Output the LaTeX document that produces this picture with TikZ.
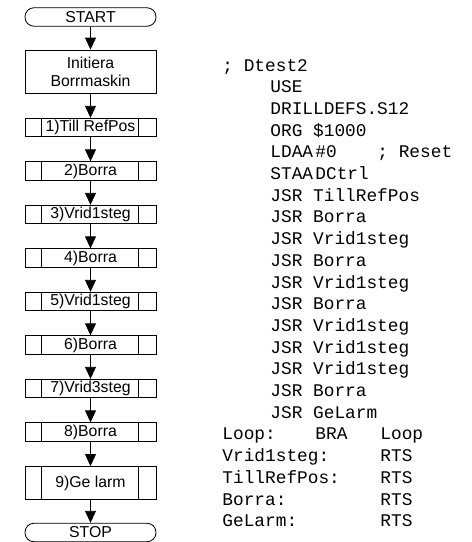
\documentclass[tikz,border=0pt]{standalone}
\usepackage{fontspec}
\setmainfont{Liberation Sans}
\newfontfamily\codefont{Liberation Mono}
\usetikzlibrary{arrows.meta}
\begin{document}
\begin{tikzpicture}[x=1pt,y=-1pt,line width=0.85pt,
  boxtext/.style={font=\fontsize{15.8}{18}\selectfont},
  procbox/.style={boxtext,draw,minimum width=131pt,minimum height=18.5pt,inner sep=0pt,align=center},
  term/.style={procbox,rounded corners=9pt},
  arr/.style={-{Triangle[width=11pt,length=12pt]}},
  code/.style={font=\fontsize{17.8}{21}\codefont,anchor=base west,inner sep=0pt}
]
\useasboundingbox (0,0) rectangle (472,542);

% flowchart
\node[term] (start) at (90.5,17) {START};
\node[procbox,minimum height=43.5pt] (init) at (90.5,71.75) {Initiera\\Borrmaskin};
\node[procbox] (s1) at (90.5,127.5) {1)Till RefPos};
\node[procbox] (s2) at (90.5,171) {2)Borra};
\node[procbox] (s3) at (90.5,214.5) {3)Vrid1steg};
\node[procbox] (s4) at (90.5,258) {4)Borra};
\node[procbox] (s5) at (90.5,301.5) {5)Vrid1steg};
\node[procbox] (s6) at (90.5,345) {6)Borra};
\node[procbox] (s7) at (90.5,388.5) {7)Vrid3steg};
\node[procbox] (s8) at (90.5,432) {8)Borra};
\node[procbox,minimum height=33pt] (s9) at (90.5,483) {9)Ge larm};
\node[term] (stop) at (90.5,532.5) {STOP};

\foreach \n in {s1,s2,s3,s4,s5,s6,s7,s8,s9}{
  \draw ([xshift=17pt]\n.north west) -- ([xshift=17pt]\n.south west);
  \draw ([xshift=-18pt]\n.north east) -- ([xshift=-18pt]\n.south east);
}

\draw[arr] (start) -- (init);
\draw[arr] (init) -- (s1);
\draw[arr] (s1) -- (s2);
\draw[arr] (s2) -- (s3);
\draw[arr] (s3) -- (s4);
\draw[arr] (s4) -- (s5);
\draw[arr] (s5) -- (s6);
\draw[arr] (s6) -- (s7);
\draw[arr] (s7) -- (s8);
\draw[arr] (s8) -- (s9);
\draw[arr] (s9) -- (stop);

% code listing
\def\ba{71}
\def\sp{21.7}
\node[code] (c0) at (222,\ba+0*\sp) {; Dtest2};
\node[code] (c1) at (270,\ba+1*\sp) {USE};
\node[code] (c2) at (270,\ba+2*\sp) {DRILLDEFS.S12};
\node[code] (c3) at (270,\ba+3*\sp) {ORG \$1000};
\node[code] (c4a) at (270,\ba+4*\sp) {LDAA};
\node[code] (c4b) at (315,\ba+4*\sp) {\#0};
\node[code] (c4c) at (377,\ba+4*\sp) {; Reset};
\node[code] (c5a) at (270,\ba+5*\sp) {STAA};
\node[code] (c5b) at (315,\ba+5*\sp) {DCtrl};
\node[code] (c6) at (270,\ba+6*\sp) {JSR TillRefPos};
\node[code] (c7) at (270,\ba+7*\sp) {JSR Borra};
\node[code] (c8) at (270,\ba+8*\sp) {JSR Vrid1steg};
\node[code] (c9) at (270,\ba+9*\sp) {JSR Borra};
\node[code] (c10) at (270,\ba+10*\sp) {JSR Vrid1steg};
\node[code] (c11) at (270,\ba+11*\sp) {JSR Borra};
\node[code] (c12) at (270,\ba+12*\sp) {JSR Vrid1steg};
\node[code] (c13) at (270,\ba+13*\sp) {JSR Vrid1steg};
\node[code] (c14) at (270,\ba+14*\sp) {JSR Vrid1steg};
\node[code] (c15) at (270,\ba+15*\sp) {JSR Borra};
\node[code] (c16) at (270,\ba+16*\sp) {JSR GeLarm};
\node[code] (c17a) at (222,\ba+17*\sp) {Loop:};
\node[code] (c17b) at (315,\ba+17*\sp) {BRA};
\node[code] (c17c) at (380,\ba+17*\sp) {Loop};
\node[code] (c18a) at (222,\ba+18*\sp) {Vrid1steg:};
\node[code] (c18b) at (380,\ba+18*\sp) {RTS};
\node[code] (c19a) at (222,\ba+19*\sp) {TillRefPos:};
\node[code] (c19b) at (380,\ba+19*\sp) {RTS};
\node[code] (c20a) at (222,\ba+20*\sp) {Borra:};
\node[code] (c20b) at (380,\ba+20*\sp) {RTS};
\node[code] (c21a) at (222,\ba+21*\sp) {GeLarm:};
\node[code] (c21b) at (380,\ba+21*\sp) {RTS};
\end{tikzpicture}
\end{document}
